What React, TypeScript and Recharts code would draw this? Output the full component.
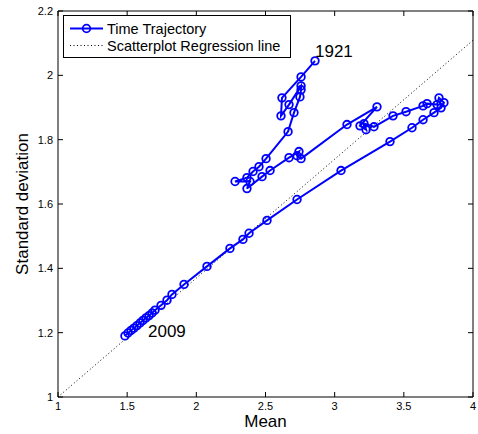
import React from 'react';
import { ScatterChart, Scatter, XAxis, YAxis } from 'recharts';

// trajectory, 1921 -> 2009
const meanValues = [
  2.858, 2.757, 2.619, 2.612, 2.670, 2.757, 2.757, 2.749, 2.706, 2.663,
  2.504, 2.453, 2.410, 2.366, 2.280, 2.388, 2.366, 2.475, 2.533, 2.670,
  2.742, 2.728, 2.757, 3.089, 3.306, 3.183, 3.227, 3.212, 3.284, 3.422,
  3.516, 3.639, 3.668, 3.740, 3.754, 3.790, 3.769, 3.718, 3.639, 3.559,
  3.400, 3.046, 2.728, 2.511, 2.381, 2.337, 2.243, 2.077, 1.911, 1.824,
  1.788, 1.745, 1.701, 1.680, 1.658, 1.636, 1.614, 1.593, 1.571, 1.549,
  1.528, 1.506, 1.484,
];
const sdValues = [
  2.045, 1.995, 1.930, 1.874, 1.909, 1.967, 1.955, 1.933, 1.884, 1.825,
  1.741, 1.716, 1.701, 1.682, 1.670, 1.670, 1.648, 1.685, 1.704, 1.744,
  1.763, 1.750, 1.741, 1.847, 1.902, 1.843, 1.831, 1.850, 1.840, 1.874,
  1.887, 1.905, 1.912, 1.909, 1.930, 1.915, 1.899, 1.884, 1.862, 1.837,
  1.794, 1.704, 1.614, 1.549, 1.509, 1.490, 1.462, 1.406, 1.350, 1.319,
  1.301, 1.285, 1.270, 1.261, 1.253, 1.246, 1.238, 1.230, 1.222, 1.214,
  1.207, 1.199, 1.190,
];

// regression line end points
const regMean = [1, 4];
const regSd = [1, 2.109];

const xTicks = [1, 1.5, 2, 2.5, 3, 3.5, 4];
const yTicks = [1, 1.2, 1.4, 1.6, 1.8, 2, 2.2];

const BLUE = '#0000ff';
const FONT = '"Liberation Sans", Arial, Helvetica, sans-serif';

const trajectory = meanValues.map((m, i) => ({ x: m, y: sdValues[i] }));
const regression = regMean.map((m, i) => ({ x: m, y: regSd[i] }));

const fmt = (v: number) => String(Number(v.toFixed(1)));

const BottomTick = ({ x, y, payload }: any) => (
  <g>
    <line x1={x} x2={x} y1={y} y2={y - 5} stroke="#000" />
    <text x={x} y={y + 12.5} textAnchor="middle" fontSize={11} fontFamily={FONT} fill="#000">
      {fmt(payload.value)}
    </text>
  </g>
);
const TopTick = ({ x, y }: any) => <line x1={x} x2={x} y1={y} y2={y + 5} stroke="#000" />;
const LeftTick = ({ x, y, payload }: any) => (
  <g>
    <line x1={x} x2={x + 5} y1={y} y2={y} stroke="#000" />
    <text x={x - 5} y={y + 4} textAnchor="end" fontSize={11} fontFamily={FONT} fill="#000">
      {fmt(payload.value)}
    </text>
  </g>
);
const RightTick = ({ x, y }: any) => <line x1={x} x2={x - 5} y1={y} y2={y} stroke="#000" />;

const Marker = (p: any) => (
  <circle cx={p.cx} cy={p.cy} r={3.8} fill="none" stroke={BLUE} strokeWidth={1.8} />
);

export default function App() {
  return (
    <div style={{ position: 'absolute', left: 0, top: 0, width: 478, height: 434, background: '#fff' }}>
      <ScatterChart width={478} height={434} margin={{ top: 0, right: 0, bottom: 7, left: 0 }}>
        <XAxis
          type="number"
          dataKey="x"
          domain={[1, 4]}
          ticks={xTicks}
          interval={0}
          allowDataOverflow
          height={30}
          tickSize={0}
          tickMargin={0}
          tickLine={false}
          axisLine={{ stroke: '#000' }}
          tick={<BottomTick />}
          label={{
            content: ({ viewBox }: any) => (
              <text x={viewBox.x + viewBox.width / 2} y={viewBox.y + 30} textAnchor="middle" fontSize={17} fontFamily={FONT} fill="#000">
                Mean
              </text>
            ),
          }}
        />
        <XAxis
          xAxisId="top"
          orientation="top"
          type="number"
          dataKey="x"
          domain={[1, 4]}
          ticks={xTicks}
          interval={0}
          allowDataOverflow
          height={11}
          tickSize={0}
          tickMargin={0}
          tickLine={false}
          axisLine={{ stroke: '#000' }}
          tick={<TopTick />}
        />
        <YAxis
          type="number"
          dataKey="y"
          domain={[1, 2.2]}
          ticks={yTicks}
          interval={0}
          allowDataOverflow
          width={58}
          tickSize={0}
          tickMargin={0}
          tickLine={false}
          axisLine={{ stroke: '#000' }}
          tick={<LeftTick />}
          label={{
            content: ({ viewBox }: any) => {
              const cx = 28;
              const cy = viewBox.y + viewBox.height / 2;
              return (
                <text x={cx} y={cy} transform={`rotate(-90 ${cx} ${cy})`} textAnchor="middle" fontSize={17} fontFamily={FONT} fill="#000">
                  Standard deviation
                </text>
              );
            },
          }}
        />
        <YAxis
          yAxisId="right"
          orientation="right"
          type="number"
          dataKey="y"
          domain={[1, 2.2]}
          ticks={yTicks}
          interval={0}
          allowDataOverflow
          width={5}
          tickSize={0}
          tickMargin={0}
          tickLine={false}
          axisLine={{ stroke: '#000' }}
          tick={<RightTick />}
        />
        <Scatter
          data={regression}
          xAxisId="top"
          yAxisId="right"
          line={{ stroke: '#000', strokeWidth: 1, strokeDasharray: '1 2.5' }}
          shape={() => <g />}
          isAnimationActive={false}
        />
        <Scatter
          data={trajectory}
          fill={BLUE}
          line={{ stroke: BLUE, strokeWidth: 2 }}
          shape={Marker}
          isAnimationActive={false}
        />
      </ScatterChart>

      {/* legend and year labels */}
      <svg width={478} height={434} style={{ position: 'absolute', left: 0, top: 0, pointerEvents: 'none' }} fontFamily={FONT}>
        <rect x={63.5} y={15.5} width={227} height={42} fill="#fff" stroke="#000" strokeWidth={1} />
        <line x1={70} x2={103} y1={28.5} y2={28.5} stroke={BLUE} strokeWidth={2} />
        <circle cx={86.5} cy={28.5} r={3.8} fill="none" stroke={BLUE} strokeWidth={1.8} />
        <text x={107} y={33.5} fontSize={14.5} fill="#000">Time Trajectory</text>
        <line x1={70} x2={103} y1={45.5} y2={45.5} stroke="#000" strokeWidth={1} strokeDasharray="1 2.5" />
        <text x={107} y={50.8} fontSize={14.5} fill="#000">Scatterplot Regression line</text>
        <text x={315} y={57} fontSize={17} fill="#000">1921</text>
        <text x={148} y={337} fontSize={17} fill="#000">2009</text>
      </svg>
    </div>
  );
}
